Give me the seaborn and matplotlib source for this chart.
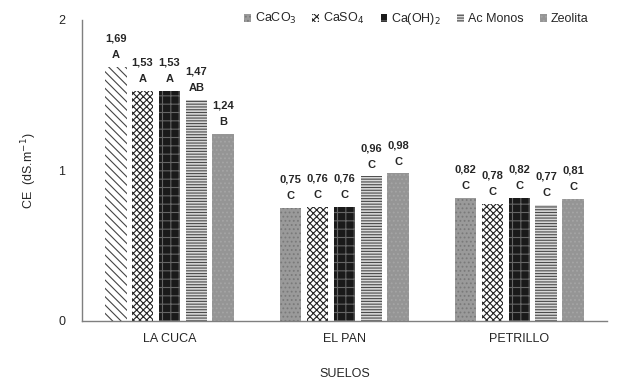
import matplotlib
matplotlib.use('Agg')
import matplotlib.pyplot as plt
from matplotlib.patches import Patch
import seaborn as sns
import pandas as pd

# Data
suelos = ['LA CUCA', 'EL PAN', 'PETRILLO']
tratamientos = ['CaCO$_3$', 'CaSO$_4$', 'Ca(OH)$_2$', 'Ac Monos', 'Zeolita']
caco3 = [1.69, 0.75, 0.82]
caso4 = [1.53, 0.76, 0.78]
caoh2 = [1.53, 0.76, 0.82]
ac_monos = [1.47, 0.96, 0.77]
zeolita = [1.24, 0.98, 0.81]
letras_caco3 = ['A', 'C', 'C']
letras_caso4 = ['A', 'C', 'C']
letras_caoh2 = ['A', 'C', 'C']
letras_ac_monos = ['AB', 'C', 'C']
letras_zeolita = ['B', 'C', 'C']

series = [caco3, caso4, caoh2, ac_monos, zeolita]
letras = [letras_caco3, letras_caso4, letras_caoh2, letras_ac_monos, letras_zeolita]

rows = []
for t, vals in zip(tratamientos, series):
    for s, v in zip(suelos, vals):
        rows.append({'suelo': s, 'tratamiento': t, 'ce': v})
df = pd.DataFrame(rows)

sns.set_style('white')
plt.rcParams['font.family'] = ['Liberation Sans', 'DejaVu Sans']
plt.rcParams['hatch.linewidth'] = 0.8

fig = plt.figure(figsize=(6.19, 3.83), dpi=100)
ax = fig.add_axes([0.1325, 0.162, 0.848, 0.786])

sns.barplot(data=df, x='suelo', y='ce', hue='tratamiento', order=suelos,
            hue_order=tratamientos, width=0.77, gap=0.19, ax=ax,
            errorbar=None, legend=False)

# fill style per treatment (grey patterned bars)
styles = [
    ('#9a9a9a', '#7a7a7a', '....'),
    ('#ffffff', '#222222', 'xxxxx'),
    ('#1a1a1a', '#666666', '++'),
    ('#d8d8d8', '#4a4a4a', '------'),
    ('#959595', '#a5a5a5', '....'),
]
for cont, (fc, hc, hatch) in zip(ax.containers, styles):
    for bar in cont:
        bar.set_facecolor(fc)
        bar.set_edgecolor(hc)
        bar.set_hatch(hatch)
        bar.set_linewidth(0)
# the first CaCO3 bar is drawn with diagonal lines in the original
first = ax.containers[0][0]
first.set_facecolor('#ffffff')
first.set_edgecolor('#444444')
first.set_hatch('\\\\\\\\')

# value + letter labels
for cont, vals, lets in zip(ax.containers, series, letras):
    for bar, v, l in zip(cont, vals, lets):
        x = bar.get_x() + bar.get_width() / 2
        ax.annotate(f'{v:.2f}'.replace('.', ',') + '\n' + l,
                    (x, bar.get_height()), xytext=(0, 5),
                    textcoords='offset points', ha='center', va='bottom',
                    fontsize=8, fontweight='bold', linespacing=1.8)

ax.set_ylim(0, 2)
ax.set_xlim(-0.5, 2.5)
ax.set_yticks([0, 1, 2])
ax.set_yticklabels(['0', '1', '2'])
ax.tick_params(axis='both', length=0, labelsize=9, pad=9)
ax.tick_params(axis='y', pad=12)
ax.set_xlabel('SUELOS', fontsize=9, labelpad=16)
ax.set_ylabel('CE  (dS.m$^{-1}$)', fontsize=9, labelpad=14)

for side in ['top', 'right']:
    ax.spines[side].set_visible(False)
for side in ['left', 'bottom']:
    ax.spines[side].set_color('#7f7f7f')
    ax.spines[side].set_linewidth(1.0)

handles = [Patch(facecolor=fc, edgecolor=hc, hatch=h, linewidth=0)
           for fc, hc, h in styles]
fig.legend(handles, tratamientos, loc='upper center',
           bbox_to_anchor=(0.672, 1.0), ncol=5, frameon=False, fontsize=9,
           handlelength=0.55, handleheight=0.55, handletextpad=0.3,
           columnspacing=1.3)

fig.savefig('out.png', dpi=100)
